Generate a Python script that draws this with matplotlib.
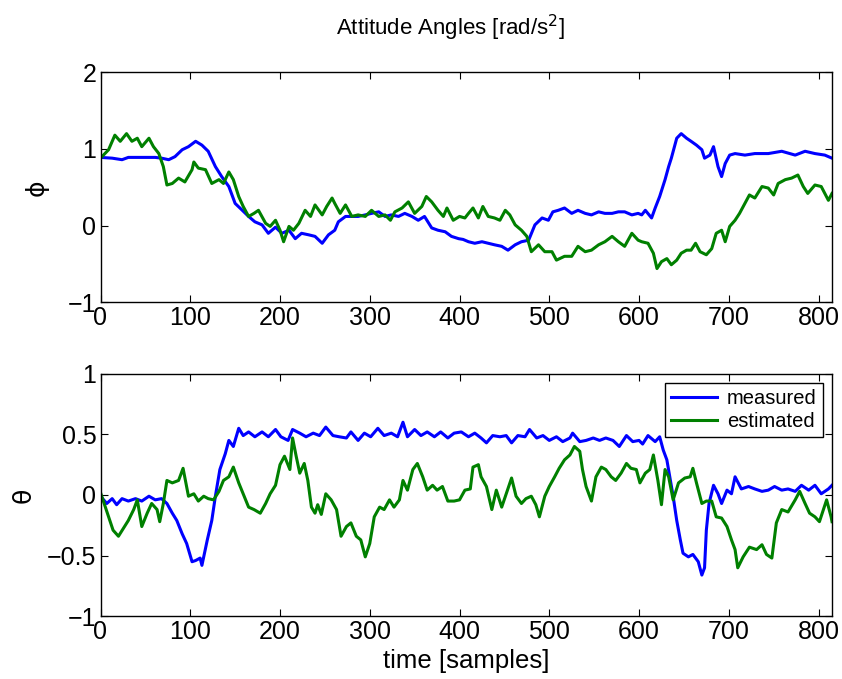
import matplotlib
matplotlib.use("Agg")
import matplotlib.pyplot as plt

plt.rcParams['font.family'] = ['Liberation Sans', 'DejaVu Sans']

# ---- data ----
phi_meas_x = [0, 13, 24, 31, 42, 54, 61, 68, 76, 83, 91, 98, 106, 113, 120, 128, 135, 143, 150, 158,
              165, 172, 180, 187, 195, 202, 210, 217, 224, 232, 239, 247, 254, 261, 265, 273, 280, 287,
              295, 302, 310, 317, 324, 332, 339, 347, 354, 361, 369, 376, 384, 391, 399, 404, 410, 417,
              425, 432, 439, 447, 454, 462, 469, 477, 484, 492, 499, 504, 510, 517, 525, 532, 540, 547,
              555, 562, 570, 577, 584, 592, 599, 603, 607, 614, 618, 623, 629, 633, 636, 642, 647, 653,
              658, 664, 670, 673, 679, 683, 688, 692, 696, 701, 707, 718, 729, 744, 759, 774, 785, 796,
              807, 815]
phi_meas_y = [0.89, 0.88, 0.86, 0.89, 0.89, 0.89, 0.89, 0.88, 0.86, 0.90, 0.99, 1.03, 1.10, 1.05, 0.97,
              0.77, 0.64, 0.51, 0.29, 0.20, 0.12, 0.05, 0.01, -0.10, -0.02, -0.10, -0.06, -0.17, -0.10,
              -0.12, -0.14, -0.23, -0.12, -0.06, 0.05, 0.12, 0.12, 0.12, 0.14, 0.16, 0.18, 0.12, 0.14,
              0.12, 0.16, 0.12, 0.07, 0.12, -0.03, -0.06, -0.08, -0.14, -0.17, -0.18, -0.21, -0.23,
              -0.21, -0.23, -0.25, -0.27, -0.32, -0.25, -0.21, -0.19, 0.01, 0.10, 0.07, 0.18, 0.20,
              0.23, 0.16, 0.20, 0.16, 0.14, 0.18, 0.16, 0.16, 0.18, 0.18, 0.14, 0.16, 0.14, 0.20, 0.10,
              0.23, 0.38, 0.60, 0.77, 0.88, 1.14, 1.20, 1.14, 1.10, 1.05, 0.99, 0.88, 0.92, 1.03, 0.77,
              0.64, 0.81, 0.92, 0.94, 0.92, 0.94, 0.94, 0.97, 0.92, 0.97, 0.94, 0.92, 0.88]

phi_est_x = [0, 9, 16, 22, 29, 35, 41, 46, 54, 59, 65, 70, 74, 80, 87, 94, 102, 104, 109, 117, 124, 132,
             137, 143, 148, 154, 159, 165, 171, 176, 184, 189, 195, 200, 204, 210, 215, 221, 228, 234,
             239, 247, 252, 258, 261, 267, 273, 280, 287, 295, 302, 310, 317, 323, 328, 336, 343, 350,
             358, 363, 369, 376, 382, 386, 393, 400, 406, 410, 415, 421, 426, 432, 439, 445, 451, 456,
             462, 469, 475, 480, 488, 495, 503, 508, 517, 525, 532, 540, 547, 555, 562, 570, 577, 584,
             592, 599, 603, 610, 616, 620, 625, 631, 636, 642, 647, 653, 658, 663, 668, 675, 681, 686,
             692, 696, 701, 707, 712, 718, 723, 729, 737, 744, 750, 755, 763, 770, 777, 783, 788, 796,
             803, 811, 815]
phi_est_y = [0.88, 0.99, 1.18, 1.10, 1.20, 1.10, 1.14, 1.03, 1.14, 1.03, 0.94, 0.77, 0.53, 0.55, 0.62,
             0.57, 0.73, 0.83, 0.75, 0.73, 0.55, 0.60, 0.55, 0.70, 0.60, 0.38, 0.25, 0.12, 0.16, 0.20,
             0.03, -0.01, 0.07, -0.06, -0.21, -0.01, -0.06, 0.03, 0.20, 0.12, 0.27, 0.14, 0.25, 0.36,
             0.29, 0.16, 0.27, 0.12, 0.14, 0.12, 0.20, 0.12, 0.14, 0.07, 0.18, 0.23, 0.31, 0.16, 0.25,
             0.38, 0.31, 0.20, 0.12, 0.23, 0.07, 0.12, 0.10, 0.16, 0.23, 0.10, 0.25, 0.12, 0.10, 0.07,
             0.20, 0.14, 0.01, -0.06, -0.14, -0.34, -0.25, -0.34, -0.34, -0.45, -0.40, -0.40, -0.27,
             -0.34, -0.32, -0.25, -0.21, -0.14, -0.21, -0.27, -0.10, -0.19, -0.21, -0.23, -0.36, -0.56,
             -0.47, -0.43, -0.51, -0.45, -0.36, -0.32, -0.32, -0.23, -0.34, -0.38, -0.30, -0.10, -0.06,
             -0.21, -0.01, 0.07, 0.16, 0.29, 0.40, 0.36, 0.51, 0.49, 0.40, 0.55, 0.60, 0.62, 0.66, 0.51,
             0.42, 0.53, 0.51, 0.33, 0.42]

theta_meas_x = [0, 7, 13, 18, 24, 31, 39, 46, 54, 61, 68, 74, 80, 85, 91, 96, 102, 106, 111, 113, 119,
                124, 128, 133, 139, 143, 148, 154, 159, 165, 172, 180, 187, 195, 201, 209, 214, 222, 229,
                237, 244, 251, 259, 266, 274, 279, 287, 294, 301, 309, 316, 324, 331, 337, 342, 350, 357,
                364, 372, 379, 387, 394, 402, 410, 417, 424, 430, 437, 445, 452, 458, 465, 473, 478, 486,
                493, 500, 508, 515, 523, 526, 534, 541, 549, 556, 563, 571, 578, 586, 593, 600, 604, 610,
                618, 623, 627, 631, 635, 638, 642, 646, 649, 655, 660, 666, 670, 673, 675, 678, 683, 688,
                692, 698, 703, 707, 714, 722, 729, 737, 744, 751, 759, 766, 774, 781, 789, 796, 803, 811,
                815]
theta_meas_y = [-0.01, -0.07, -0.03, -0.08, -0.03, -0.05, -0.03, -0.05, -0.01, -0.04, -0.03, -0.07,
                -0.15, -0.21, -0.32, -0.40, -0.55, -0.54, -0.52, -0.58, -0.37, -0.21, -0.01, 0.21, 0.34,
                0.45, 0.40, 0.55, 0.49, 0.52, 0.48, 0.52, 0.48, 0.54, 0.48, 0.45, 0.54, 0.51, 0.48, 0.51,
                0.49, 0.56, 0.49, 0.48, 0.47, 0.52, 0.45, 0.51, 0.48, 0.55, 0.49, 0.51, 0.48, 0.60, 0.48,
                0.54, 0.49, 0.52, 0.48, 0.52, 0.47, 0.51, 0.52, 0.48, 0.51, 0.47, 0.43, 0.49, 0.48, 0.49,
                0.43, 0.49, 0.48, 0.54, 0.47, 0.49, 0.45, 0.48, 0.44, 0.47, 0.51, 0.44, 0.45, 0.47, 0.45,
                0.47, 0.45, 0.40, 0.49, 0.44, 0.45, 0.42, 0.49, 0.44, 0.48, 0.37, 0.29, 0.12, -0.01, -0.21,
                -0.37, -0.48, -0.51, -0.49, -0.55, -0.66, -0.60, -0.29, -0.07, 0.08, 0.01, -0.07, 0.04,
                0.01, 0.15, 0.05, 0.07, 0.05, 0.03, 0.04, 0.07, 0.04, 0.05, 0.03, 0.08, 0.04, 0.08, 0.01,
                0.05, 0.08]

theta_est_x = [0, 9, 14, 20, 26, 31, 37, 41, 46, 52, 57, 63, 66, 70, 74, 80, 87, 92, 98, 104, 109, 115,
               120, 126, 132, 137, 143, 148, 154, 159, 165, 171, 178, 184, 189, 195, 200, 205, 211, 214,
               218, 222, 227, 231, 235, 239, 242, 246, 251, 257, 263, 268, 274, 279, 285, 290, 295, 300,
               305, 311, 316, 322, 327, 333, 337, 342, 348, 353, 359, 364, 370, 375, 381, 387, 394, 400,
               406, 412, 415, 421, 424, 430, 436, 441, 447, 452, 458, 463, 469, 474, 480, 485, 489, 495,
               500, 506, 511, 517, 523, 528, 534, 537, 541, 547, 552, 558, 563, 569, 574, 580, 586, 591,
               597, 601, 607, 612, 616, 621, 625, 629, 633, 638, 644, 651, 657, 660, 664, 670, 675, 681,
               686, 692, 698, 703, 707, 710, 716, 723, 731, 737, 742, 748, 753, 759, 766, 774, 779, 785,
               790, 796, 801, 809, 814, 815]
theta_est_y = [0.02, -0.18, -0.29, -0.34, -0.27, -0.21, -0.12, -0.04, -0.26, -0.15, -0.07, -0.12, -0.22,
               -0.07, 0.12, 0.10, 0.12, 0.22, -0.01, 0.01, -0.05, -0.01, -0.03, -0.04, 0.03, 0.12, 0.15,
               0.23, 0.10, 0.01, -0.10, -0.12, -0.15, -0.07, 0.01, 0.08, 0.25, 0.32, 0.21, 0.47, 0.32,
               0.18, 0.26, 0.12, -0.10, -0.15, -0.08, -0.16, 0.01, -0.04, -0.12, -0.34, -0.26, -0.23,
               -0.34, -0.37, -0.51, -0.40, -0.18, -0.10, -0.12, -0.04, -0.10, -0.04, 0.12, 0.04, 0.21,
               0.26, 0.15, 0.04, 0.08, 0.04, 0.07, -0.05, -0.05, -0.04, 0.04, 0.05, 0.23, 0.25, 0.15,
               0.07, -0.12, 0.04, -0.10, 0.01, 0.14, -0.01, -0.07, -0.03, -0.01, -0.08, -0.18, -0.01,
               0.07, 0.15, 0.22, 0.29, 0.33, 0.40, 0.36, 0.21, 0.07, -0.05, 0.15, 0.23, 0.21, 0.15, 0.12,
               0.18, 0.26, 0.22, 0.21, 0.10, 0.18, 0.21, 0.33, 0.12, -0.08, 0.21, 0.15, -0.04, 0.10, 0.14,
               0.15, 0.22, 0.10, -0.07, -0.05, -0.05, -0.18, -0.19, -0.26, -0.37, -0.45, -0.60, -0.51,
               -0.43, -0.45, -0.41, -0.49, -0.52, -0.23, -0.12, -0.14, -0.04, 0.03, -0.07, -0.15, -0.18,
               -0.22, -0.04, -0.18, -0.22]

x_ticks = [0, 100, 200, 300, 400, 500, 600, 700, 800]
phi_ticks = [-1, 0, 1, 2]
theta_ticks = [-1, -0.5, 0, 0.5, 1]
series_labels = ["measured", "estimated"]

BLUE = (0, 0, 1)
GREEN = (0, 0.5, 0)

W, H = 842, 679
fig = plt.figure(figsize=(W / 100, H / 100), dpi=100)
ax1 = fig.add_axes([100.5 / W, 1 - 302.3 / H, 731.5 / W, 230 / H])
ax2 = fig.add_axes([100.5 / W, 1 - 616.3 / H, 731.5 / W, 242.6 / H])

def style(ax, yticks, ylim):
    ax.set_xlim(0, 815)
    ax.set_ylim(*ylim)
    ax.set_xticks(x_ticks)
    ax.set_yticks(yticks)
    ax.set_yticklabels([("%g" % t).replace("-", "\u2212") for t in yticks])
    ax.tick_params(direction='in', length=5, width=0.8, labelsize=18, top=True, right=True,
                   colors='black', pad=3)
    for sp in ax.spines.values():
        sp.set_linewidth(1.0)
        sp.set_color('black')

ax1.plot(phi_meas_x, phi_meas_y, color=BLUE, lw=2.2)
ax1.plot(phi_est_x, phi_est_y, color=GREEN, lw=2.2)
style(ax1, phi_ticks, (-1, 2))
ax1.set_ylabel("\u03d5", fontsize=18, family=['DejaVu Sans'], labelpad=14)
fig.text(450 / W, 1 - 28 / H, "Attitude Angles [rad/s$^2$]", fontsize=16, ha='center', va='center')

ax2.plot(theta_meas_x, theta_meas_y, color=BLUE, lw=2.2, label=series_labels[0])
ax2.plot(theta_est_x, theta_est_y, color=GREEN, lw=2.2, label=series_labels[1])
style(ax2, theta_ticks, (-1, 1))
ax2.set_ylabel("\u03b8", fontsize=18, family=['DejaVu Sans'], labelpad=8)
ax2.set_xlabel("time [samples]", fontsize=18.5, labelpad=3)
leg = ax2.legend(loc='upper right', fontsize=14.5, frameon=True, fancybox=False,
                 edgecolor='black', framealpha=1, borderpad=0.3, handlelength=2.3,
                 handletextpad=0.5, labelspacing=0.2, borderaxespad=0.45)
leg.get_frame().set_linewidth(1.0)

fig.savefig("out.png", dpi=100)
